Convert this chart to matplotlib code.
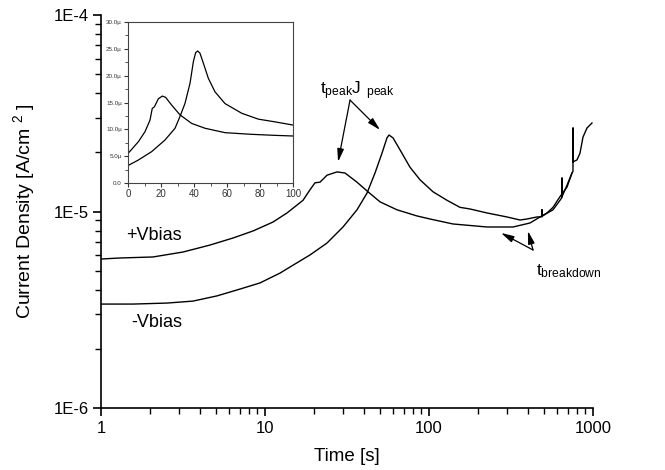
import numpy as np
import matplotlib
matplotlib.use('Agg')
import matplotlib.pyplot as plt
from matplotlib.ticker import LogLocator, NullFormatter, MultipleLocator

plt.rcParams['font.family'] = ['Liberation Sans', 'DejaVu Sans']

# main plot, +Vbias
t_pos = [1.0, 1.306, 2.075, 3.162, 4.619, 6.381, 8.45, 11.19, 13.62, 17.05, 18.81,
         20.18, 21.65, 23.88, 27.48, 30.74, 36.39, 42.46, 50.25, 63.81, 84.53, 101.4,
         140.1, 225.9, 325.3, 413.0, 475.3, 524.3, 570.4, 629.3, 694.2, 744.8]
J_pos = [5.73e-6, 5.80e-6, 5.87e-6, 6.22e-6, 6.75e-6, 7.33e-6, 7.96e-6, 8.84e-6, 9.83e-6,
         1.14e-5, 1.29e-5, 1.40e-5, 1.41e-5, 1.53e-5, 1.59e-5, 1.57e-5, 1.41e-5, 1.26e-5,
         1.12e-5, 1.02e-5, 9.49e-6, 9.16e-6, 8.64e-6, 8.34e-6, 8.34e-6, 8.74e-6, 9.38e-6,
         9.83e-6, 1.05e-5, 1.19e-5, 1.33e-5, 1.57e-5]

# main plot, -Vbias (spikes are repeated times)
t_neg = [1.0, 1.567, 2.526, 3.639, 5.097, 7.04, 9.322, 12.35, 14.21, 18.81, 23.88, 29.9,
         36.39, 41.88, 46.86, 51.68, 55.45, 57.03, 60.32, 66.56, 76.59, 88.15, 105.8,
         128.8, 154.5, 177.8, 225.9, 299.0, 358.8, 396.0, 455.6, 488.7, 488.7, 488.7,
         524.3, 570.4, 629.3, 647.2, 647.2, 647.2, 694.2, 744.8, 755.2, 755.2, 755.2,
         798.8, 833.2, 869.0, 919.2, 986.0]
J_neg = [3.38e-6, 3.38e-6, 3.42e-6, 3.50e-6, 3.72e-6, 4.03e-6, 4.33e-6, 4.86e-6, 5.22e-6,
         6.01e-6, 6.91e-6, 8.34e-6, 1.02e-5, 1.24e-5, 1.57e-5, 1.98e-5, 2.37e-5, 2.45e-5,
         2.37e-5, 2.06e-5, 1.68e-5, 1.45e-5, 1.26e-5, 1.14e-5, 1.05e-5, 1.03e-5, 9.83e-6,
         9.38e-6, 9.05e-6, 9.16e-6, 9.38e-6, 9.40e-6, 1.02e-5, 9.45e-6, 9.80e-6, 1.02e-5,
         1.14e-5, 1.18e-5, 1.48e-5, 1.19e-5, 1.36e-5, 1.57e-5, 1.60e-5, 2.66e-5, 1.79e-5,
         1.83e-5, 1.98e-5, 2.39e-5, 2.66e-5, 2.82e-5]

# inset (linear, microA/cm2)
ti_pos = [0.6, 6.3, 10.3, 13.3, 14.7, 16.0, 18.4, 20.8, 22.8, 26.5, 31.5, 38.6, 46.7,
          58.8, 75, 89, 100]
Ji_pos = [5.71, 7.70, 9.57, 11.7, 13.9, 14.2, 15.7, 16.2, 15.96, 14.5, 12.7, 11.1, 10.2,
          9.38, 9.07, 8.88, 8.76]
ti_neg = [0.6, 6.3, 14.3, 22.4, 28.5, 31.5, 34.5, 37.6, 39.6, 41.0, 42.2, 43.6, 45.7,
          48.7, 52.7, 58.8, 68.9, 79, 89, 100]
Ji_neg = [3.35, 4.29, 5.84, 8.01, 10.2, 12.4, 14.8, 18.6, 22.6, 24.3, 24.6, 24.2, 22.3,
          19.5, 17.0, 14.8, 13.0, 11.9, 11.4, 10.8]

x_ticks = [1, 10, 100, 1000]
x_labels = ['1', '10', '100', '1000']
y_ticks = [1e-6, 1e-5, 1e-4]
y_labels = ['1E-6', '1E-5', '1E-4']
yi_ticks = [0, 5, 10, 15, 20, 25, 30]
yi_labels = ['0.0', '5.0\u00b5', '10.0\u00b5', '15.0\u00b5', '20.0\u00b5', '25.0\u00b5', '30.0\u00b5']


def main():
    fig = plt.figure(figsize=(6.65, 4.7), dpi=100)
    ax = fig.add_axes([0.1519, 0.1319, 0.7398, 0.8362])

    ax.plot(t_pos, J_pos, color='black', linewidth=1.0)
    ax.plot(t_neg, J_neg, color='black', linewidth=1.0)

    ax.set_xscale('log')
    ax.set_yscale('log')
    ax.set_xlim(1, 1000)
    ax.set_ylim(1e-6, 1e-4)
    ax.spines['top'].set_visible(False)
    ax.spines['right'].set_visible(False)
    ax.spines['left'].set_linewidth(1.2)
    ax.spines['bottom'].set_linewidth(1.2)

    ax.set_xticks(x_ticks)
    ax.set_xticklabels(x_labels)
    ax.set_yticks(y_ticks)
    ax.set_yticklabels(y_labels)
    ax.xaxis.set_minor_locator(LogLocator(base=10, subs=np.arange(2, 10)))
    ax.yaxis.set_minor_locator(LogLocator(base=10, subs=np.arange(2, 10)))
    ax.xaxis.set_minor_formatter(NullFormatter())
    ax.yaxis.set_minor_formatter(NullFormatter())
    ax.tick_params(which='major', direction='out', length=6, width=1.2, labelsize=12, pad=3)
    ax.tick_params(which='minor', direction='out', length=4, width=1.0)

    ax.set_xlabel('Time [s]', fontsize=13.5, labelpad=9)
    ax.set_ylabel('Current Density [A/cm $^{\\mathregular{2}}$ ]', fontsize=14, labelpad=11)

    ax.text(2.10, 1.0e-5 * 10 ** (-(235 - 211.5) / 196.5), '+Vbias', fontsize=13,
            ha='center', va='center')
    ax.text(2.19, 1.0e-5 * 10 ** (-(322 - 211.5) / 196.5), '-Vbias', fontsize=13,
            ha='center', va='center')

    arrow = dict(arrowstyle='-|>,head_length=0.7,head_width=0.18', color='black',
                 linewidth=0.9, mutation_scale=11, shrinkA=0, shrinkB=0)

    # t_peak J_peak annotation
    ax.text(21.6, 4.1e-5, r'$\mathregular{t_{peak}J\ _{peak}}$', fontsize=12.5,
            ha='left', va='center')
    ax.annotate('', xy=(27.9, 1.79e-5), xytext=(33, 3.69e-5), arrowprops=arrow)
    ax.annotate('', xy=(50.3, 2.60e-5), xytext=(33, 3.69e-5), arrowprops=arrow)

    # t_breakdown annotation
    ax.text(450, 5.0e-6, r'$\mathregular{t_{breakdown}}$', fontsize=12.5,
            ha='left', va='center')
    ax.annotate('', xy=(275, 7.78e-6), xytext=(431, 6.37e-6), arrowprops=arrow)
    ax.annotate('', xy=(401, 7.96e-6), xytext=(431, 6.37e-6), arrowprops=arrow)

    # inset
    axi = fig.add_axes([0.1925, 0.6106, 0.2481, 0.3426])
    axi.plot(ti_pos, Ji_pos, color='black', linewidth=0.9)
    axi.plot(ti_neg, Ji_neg, color='black', linewidth=0.9)
    axi.set_xlim(0, 100)
    axi.set_ylim(0, 30)
    axi.set_xticks([0, 20, 40, 60, 80, 100])
    axi.set_yticks(yi_ticks)
    axi.set_yticklabels(yi_labels)
    axi.xaxis.set_minor_locator(MultipleLocator(10))
    axi.yaxis.set_minor_locator(MultipleLocator(2.5))
    for s in axi.spines.values():
        s.set_linewidth(0.8)
        s.set_color('#444444')
    axi.tick_params(axis='x', which='major', direction='out', length=3, width=0.8,
                    labelsize=7, pad=1.5, colors='#333333')
    axi.tick_params(axis='y', which='major', direction='out', length=3, width=0.8,
                    labelsize=4.5, pad=1.5, colors='#333333')
    axi.tick_params(which='minor', direction='out', length=2, width=0.6, colors='#333333')

    plt.savefig('out.png', dpi=100)


if __name__ == '__main__':
    main()
